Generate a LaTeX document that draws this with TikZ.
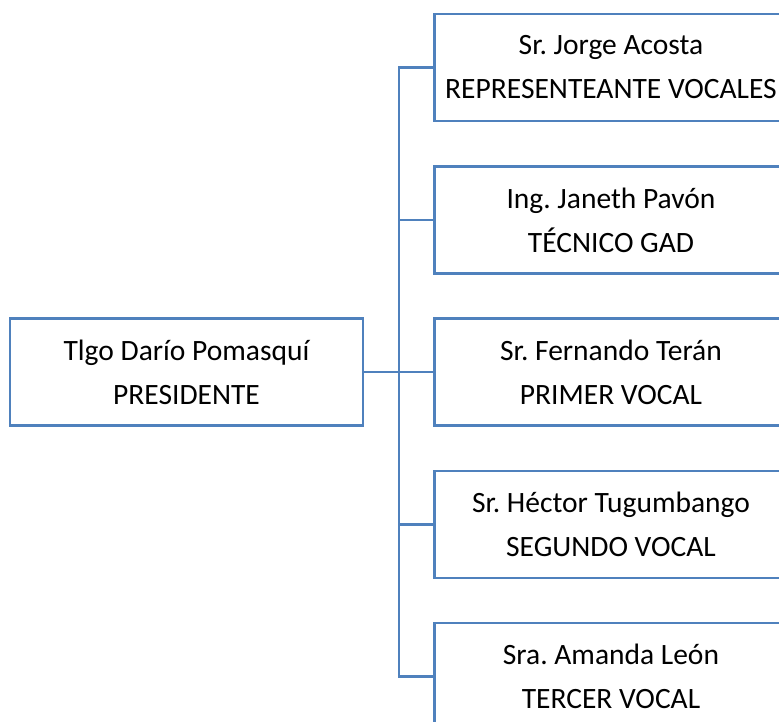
\documentclass[tikz,border=0pt]{standalone}
\usepackage{fontspec}
\setmainfont{Carlito}
\frenchspacing
\definecolor{boxblue}{RGB}{79,129,189}
\tikzset{
  cargo/.style={draw=boxblue, line width=2.2pt, minimum width=353pt, minimum height=107pt,
    align=center, inner sep=0pt, font=\fontsize{29.5}{44}\selectfont},
  link/.style={draw=boxblue, line width=2.2pt}
}
\begin{document}
\begin{tikzpicture}[x=1pt, y=1pt]
\useasboundingbox (0,0) rectangle (779,-722);
\node[cargo] (pres) at (186.5,-372) {Tlgo Darío Pomasquí\\PRESIDENTE};
\node[cargo] (rep) at (611,-67.5) {Sr. Jorge Acosta\\REPRESENTEANTE VOCALES};
\node[cargo] (tec) at (611,-220) {Ing. Janeth Pavón\\TÉCNICO GAD};
\node[cargo] (pri) at (611,-372) {Sr. Fernando Terán\\PRIMER VOCAL};
\node[cargo] (seg) at (611,-524.5) {Sr. Héctor Tugumbango\\SEGUNDO VOCAL};
\node[cargo] (ter) at (611,-676.5) {Sra. Amanda León\\TERCER VOCAL};
\coordinate (trunk) at (399,-372);
% tronco y ramas
\draw[link] (rep.west) -| (trunk) |- (ter.west);
\draw[link] (tec.west) -- (tec.west -| trunk);
\draw[link] (seg.west) -- (seg.west -| trunk);
\draw[link] (pres.east) -- (pri.west);
\end{tikzpicture}
\end{document}
